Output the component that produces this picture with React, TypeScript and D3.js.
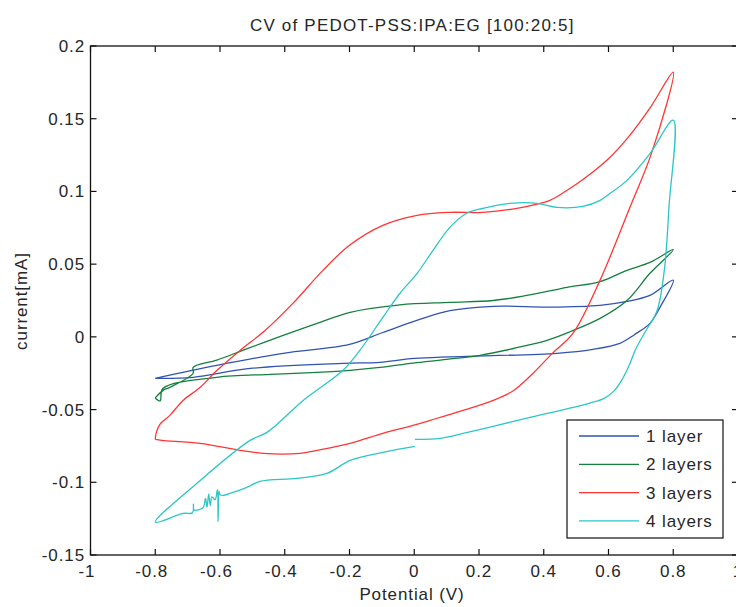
import * as d3 from 'd3';

// potential (V), current (mA)
const layer1: [number, number][] = [
  [-0.8, -0.0285], [-0.61, -0.0196], [-0.405, -0.0113], [-0.2, -0.0052], [-0.097, 0.003],
  [0.008, 0.0113], [0.11, 0.018], [0.244, 0.021], [0.419, 0.0205], [0.574, 0.0217],
  [0.657, 0.0244], [0.728, 0.0285], [0.8, 0.039],
  [0.759, 0.0203], [0.728, 0.0093], [0.68, 0.0015], [0.635, -0.0045], [0.552, -0.0086],
  [0.441, -0.0113], [0.002, -0.0148], [-0.106, -0.0175], [-0.22, -0.0182],
  [-0.507, -0.0217], [-0.683, -0.0278], [-0.8, -0.0285],
];

const layer2: [number, number][] = [
  [-0.8, -0.042], [-0.776, -0.0368], [-0.755, -0.0347], [-0.683, -0.025], [-0.683, -0.021],
  [-0.61, -0.016], [-0.53, -0.0093], [-0.405, 0.001], [-0.3, 0.0093], [-0.198, 0.0169],
  [-0.044, 0.022], [0.11, 0.0237], [0.244, 0.025], [0.348, 0.0285], [0.472, 0.034],
  [0.574, 0.038], [0.657, 0.0457], [0.728, 0.0512], [0.8, 0.06],
  [0.728, 0.0437], [0.657, 0.025], [0.574, 0.0127], [0.481, 0.0035], [0.41, -0.0024],
  [0.306, -0.008], [0.203, -0.0127], [0.1, -0.0155], [-0.004, -0.018], [-0.106, -0.021],
  [-0.198, -0.023], [-0.3, -0.0244], [-0.445, -0.0258], [-0.61, -0.0278], [-0.776, -0.0354],
  [-0.785, -0.044], [-0.8, -0.042],
];

const layer3: [number, number][] = [
  [-0.8, -0.0705], [-0.797, -0.066], [-0.785, -0.06], [-0.755, -0.054], [-0.714, -0.0437],
  [-0.661, -0.0347], [-0.609, -0.023], [-0.538, -0.0093], [-0.46, 0.0045], [-0.375, 0.023],
  [-0.282, 0.0457], [-0.2, 0.063], [-0.097, 0.0767], [0.009, 0.0836], [0.11, 0.0856],
  [0.212, 0.0856], [0.317, 0.0884], [0.419, 0.0939], [0.47, 0.1005], [0.52, 0.108],
  [0.6, 0.1225], [0.66, 0.137], [0.73, 0.158], [0.8, 0.182],
  [0.734, 0.127], [0.666, 0.089], [0.574, 0.039], [0.49, 0.0024], [0.428, -0.011],
  [0.367, -0.025], [0.306, -0.037], [0.244, -0.0437], [0.151, -0.0505], [0.049, -0.0574],
  [-0.004, -0.0609], [-0.097, -0.0664], [-0.198, -0.0732], [-0.3, -0.078], [-0.353, -0.0801],
  [-0.467, -0.0801], [-0.538, -0.078], [-0.662, -0.0732], [-0.78, -0.0712], [-0.8, -0.0705],
];

const layer4: [number, number][] = [
  [0.002, -0.0753], [-0.097, -0.0794], [-0.198, -0.085], [-0.27, -0.0939], [-0.363, -0.0973],
  [-0.477, -0.0994], [-0.517, -0.1035], [-0.569, -0.1077], [-0.59, -0.109], [-0.6, -0.1085],
  [-0.603, -0.106], [-0.606, -0.127], [-0.608, -0.105], [-0.615, -0.112], [-0.625, -0.11],
  [-0.63, -0.116], [-0.635, -0.108], [-0.64, -0.117], [-0.645, -0.111], [-0.652, -0.1173],
  [-0.68, -0.119], [-0.682, -0.115], [-0.685, -0.121], [-0.714, -0.1214], [-0.8, -0.1275],
  [-0.661, -0.0987], [-0.507, -0.0712], [-0.455, -0.0657], [-0.343, -0.0437], [-0.22, -0.023],
  [-0.168, -0.0093], [-0.097, 0.0134], [-0.044, 0.03], [0.009, 0.0437], [0.058, 0.0595],
  [0.11, 0.0753], [0.162, 0.085], [0.212, 0.0884], [0.296, 0.0918], [0.38, 0.0918],
  [0.441, 0.089], [0.521, 0.0897], [0.574, 0.0939], [0.605, 0.0987], [0.657, 0.1076],
  [0.728, 0.126], [0.8, 0.149],
  [0.787, 0.09], [0.772, 0.045], [0.75, 0.018], [0.715, 0.004], [0.685, -0.008],
  [0.663, -0.02], [0.643, -0.029], [0.618, -0.037], [0.585, -0.0425], [0.543, -0.0455],
  [0.472, -0.0495], [0.358, -0.0553], [0.256, -0.0609], [0.151, -0.0664], [0.08, -0.0698],
  [0.002, -0.0705],
];

const seriesNames = ['1 layer', '2 layers', '3 layers', '4 layers'];
const seriesColors = ['#2f52b4', '#14803e', '#ff3535', '#2cc6c6'];
const seriesData = [layer1, layer2, layer3, layer4];

const xTicks = [-1, -0.8, -0.6, -0.4, -0.2, 0, 0.2, 0.4, 0.6, 0.8, 1];
const yTicks = [-0.15, -0.1, -0.05, 0, 0.05, 0.1, 0.15, 0.2];

const W = 736;
const H = 607;
const font = "'Liberation Sans', Arial, sans-serif";
const ink = '#262626';

export default function App() {
  const x = d3.scaleLinear().domain([-1, 1]).range([90.5, 738]);
  const y = d3.scaleLinear().domain([-0.15, 0.2]).range([555, 46]);
  const line = d3
    .line<[number, number]>()
    .x(d => x(d[0]))
    .y(d => y(d[1]))
    .curve(d3.curveCatmullRom.alpha(0.5));

  const fmt = (v: number) => String(+v.toFixed(2));
  const x0 = x(-1);
  const x1 = x(1);
  const y0 = y(-0.15);
  const y1 = y(0.2);

  return (
    <svg
      width={W}
      height={H}
      style={{ position: 'absolute', left: 0, top: 0, background: '#fff' }}
      fontFamily={font}
      fontSize={17}
      letterSpacing={0.9}
    >
      <rect width={W} height={H} fill="#fff" />
      <text x={(x0 + x1) / 2 - 2} y={31} textAnchor="middle" fill={ink} letterSpacing={1.2}>
        CV of PEDOT-PSS:IPA:EG [100:20:5]
      </text>

      {seriesData.map((d, i) => (
        <path key={i} d={line(d) || ''} fill="none" stroke={seriesColors[i]} strokeWidth={1.3} />
      ))}

      <rect x={x0} y={y1} width={x1 - x0} height={y0 - y1} fill="none" stroke="#111" strokeWidth={1.3} />
      {xTicks.map(t => (
        <g key={'x' + t}>
          <line x1={x(t)} x2={x(t)} y1={y0} y2={y0 - 6} stroke="#111" strokeWidth={1.2} />
          <line x1={x(t)} x2={x(t)} y1={y1} y2={y1 + 6} stroke="#111" strokeWidth={1.2} />
          <text x={x(t) - (t < 0 ? 3.5 : 0)} y={577} textAnchor="middle" fill={ink}>
            {fmt(t)}
          </text>
        </g>
      ))}
      {yTicks.map(t => (
        <g key={'y' + t}>
          <line x1={x0} x2={x0 + 6} y1={y(t)} y2={y(t)} stroke="#111" strokeWidth={1.2} />
          <line x1={x1} x2={x1 - 6} y1={y(t)} y2={y(t)} stroke="#111" strokeWidth={1.2} />
          <text x={85} y={y(t)} dy="0.35em" textAnchor="end" fill={ink}>
            {fmt(t)}
          </text>
        </g>
      ))}

      <text x={412} y={600} textAnchor="middle" fill={ink}>
        Potential (V)
      </text>
      <text transform="translate(27,301) rotate(-90)" textAnchor="middle" fill={ink}>
        current[mA]
      </text>

      <g transform="translate(567,420)">
        <rect width={156} height={118} fill="#fff" stroke="#111" strokeWidth={1.2} />
        {seriesNames.map((n, i) => (
          <g key={n} transform={`translate(0,${16 + i * 28.3})`}>
            <line x1={12} x2={72} y1={0} y2={0} stroke={seriesColors[i]} strokeWidth={1.3} />
            <text x={79} y={0} dy="0.35em" fill={ink}>
              {n}
            </text>
          </g>
        ))}
      </g>
    </svg>
  );
}
